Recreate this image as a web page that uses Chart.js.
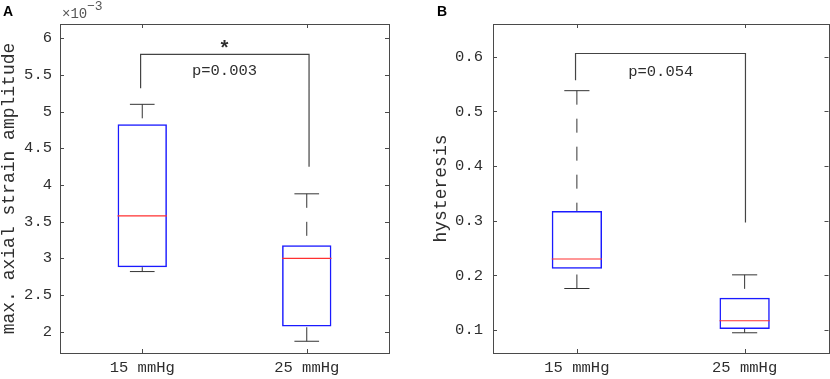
<!DOCTYPE html>
<html>
<head>
<meta charset="utf-8">
<script src="https://cdn.jsdelivr.net/npm/chart.js@4.4.1/dist/chart.umd.min.js"></script>
<style>
  body { margin: 0; background: #fff; }
  #wrapA { position: absolute; left: 0; top: 0; width: 415px; height: 379px; }
  #wrapB { position: absolute; left: 415px; top: 0; width: 415px; height: 379px; }
</style>
</head>
<body>
<div id="wrapA"><canvas id="chartA" width="415" height="379"></canvas></div>
<div id="wrapB"><canvas id="chartB" width="415" height="379"></canvas></div>
<script>
// categories on the x axis
const categories = ['15 mmHg', '25 mmHg'];

// panel A: max. axial strain amplitude (x10^-3)
const strainMin = [2.82, 1.87];
const strainQ1 = [2.88, 2.07];
const strainMedian = [3.58, 3.00];
const strainQ3 = [4.83, 3.18];
const strainMax = [5.10, 3.88];
const strainTicks = [2, 2.5, 3, 3.5, 4, 4.5, 5, 5.5, 6];
// significance bracket: left leg end, top, right leg end
const strainBracket = [5.32, 5.78, 4.25];

// panel B: hysteresis
const hystMin = [0.176, 0.095];
const hystQ1 = [0.212, 0.102];
const hystMedian = [0.230, 0.117];
const hystQ3 = [0.318, 0.159];
const hystMax = [0.538, 0.201];
const hystTicks = [0.1, 0.2, 0.3, 0.4, 0.5, 0.6];
const hystBracket = [0.557, 0.606, 0.297];

const monoFont = 'Liberation Mono, Courier New, monospace';
const axisColor = '#4a4a4a';
const textColor = '#2e2e2e';

// frame, inner tick marks and the free text of each panel
const framePlugin = {
  id: 'frame',
  afterDraw(chart) {
    const ctx = chart.ctx;
    const a = chart.chartArea;
    const xs = chart.scales.x;
    const ys = chart.scales.y;
    const tl = 4;
    ctx.save();
    ctx.strokeStyle = axisColor;
    ctx.lineWidth = 1;
    ctx.strokeRect(Math.round(a.left) + 0.5, Math.round(a.top) + 0.5,
      Math.round(a.right - a.left), Math.round(a.bottom - a.top));
    ctx.beginPath();
    ys.ticks.forEach(t => {
      const py = Math.round(ys.getPixelForValue(t.value)) + 0.5;
      ctx.moveTo(a.left, py); ctx.lineTo(a.left + tl, py);
      ctx.moveTo(a.right, py); ctx.lineTo(a.right - tl, py);
    });
    xs.ticks.forEach(t => {
      const px = Math.round(xs.getPixelForValue(t.value)) + 0.5;
      ctx.moveTo(px, a.bottom); ctx.lineTo(px, a.bottom - tl);
      ctx.moveTo(px, a.top); ctx.lineTo(px, a.top + tl);
    });
    ctx.stroke();

    const opts = chart.options.plugins.frame;
    ctx.fillStyle = textColor;
    ctx.textAlign = 'center';
    ctx.textBaseline = 'middle';
    (opts.notes || []).forEach(n => {
      ctx.font = (n.bold ? 'bold ' : '') + n.size + 'px ' + monoFont;
      ctx.fillText(n.text, xs.getPixelForValue(n.x), ys.getPixelForValue(n.y));
    });

    // panel letter
    ctx.fillStyle = '#000';
    ctx.textAlign = 'left';
    ctx.textBaseline = 'alphabetic';
    ctx.font = 'bold 14px Liberation Sans, Arial, sans-serif';
    ctx.fillText(opts.letter, opts.letterX, 16);

    if (opts.exponent) {
      ctx.fillStyle = '#555';
      ctx.font = '14px ' + monoFont;
      ctx.fillText('\u00d710', a.left + 2, 18);
      ctx.font = '13px ' + monoFont;
      ctx.fillText(opts.exponent, a.left + 27, 10);
    }
    ctx.restore();
  }
};

function boxDatasets(mins, q1s, meds, q3s, maxs, bracket, legX) {
  const boxW = 0.15;
  const capW = 0.075;
  const medians = [], whiskers = [], caps = [];
  categories.forEach((c, i) => {
    const x = i + 1;
    medians.push({x: x - boxW, y: meds[i]}, {x: x + boxW, y: meds[i]}, {x: x, y: null});
    whiskers.push({x: x, y: maxs[i]}, {x: x, y: q3s[i]}, {x: x, y: null});
    whiskers.push({x: x, y: mins[i]}, {x: x, y: q1s[i]}, {x: x, y: null});
    caps.push({x: x - capW, y: maxs[i]}, {x: x + capW, y: maxs[i]}, {x: x, y: null});
    caps.push({x: x - capW, y: mins[i]}, {x: x + capW, y: mins[i]}, {x: x, y: null});
  });
  const line = {type: 'line', showLine: true, pointRadius: 0, fill: false, tension: 0, spanGaps: false};
  return [
    Object.assign({}, line, {data: medians, borderColor: '#ff3030', borderWidth: 1.2, order: 0}),
    {
      type: 'bar',
      data: categories.map((c, i) => ({x: i + 1, y: [q1s[i], q3s[i]]})),
      backgroundColor: 'rgba(255,255,255,0)',
      borderColor: '#1a1aff',
      borderWidth: 1.5,
      borderSkipped: false,
      barPercentage: 0.3,
      categoryPercentage: 1,
      order: 3
    },
    Object.assign({}, line, {data: whiskers, borderColor: '#333', borderWidth: 1, borderDash: [14, 14], order: 2}),
    Object.assign({}, line, {data: caps, borderColor: '#333', borderWidth: 1, order: 2}),
    Object.assign({}, line, {
      data: [{x: legX[0], y: bracket[0]}, {x: legX[0], y: bracket[1]}, {x: legX[1], y: bracket[1]}, {x: legX[1], y: bracket[2]}],
      borderColor: '#444', borderWidth: 1.2, order: 1
    })
  ];
}

function makeChart(id, cfg) {
  return new Chart(document.getElementById(id), {
    type: 'bar',
    data: {datasets: cfg.datasets},
    options: {
      responsive: false,
      animation: false,
      layout: {padding: {top: 24, right: cfg.padRight, bottom: 0, left: 0}},
      plugins: {
        legend: {display: false},
        tooltip: {enabled: false},
        frame: cfg.frame
      },
      scales: {
        x: {
          type: 'linear',
          min: 0.5,
          max: 2.5,
          offset: false,
          grid: {display: false, drawTicks: false},
          border: {display: false},
          afterBuildTicks: s => { s.ticks = categories.map((c, i) => ({value: i + 1})); },
          afterFit: s => { s.height = 26; },
          ticks: {
            autoSkip: false,
            maxRotation: 0,
            padding: 6,
            color: textColor,
            font: {family: monoFont, size: 15.5},
            callback: v => categories[v - 1]
          }
        },
        y: {
          type: 'linear',
          min: cfg.yMin,
          max: cfg.yMax,
          grid: {display: false, drawTicks: false},
          border: {display: false},
          afterBuildTicks: s => { s.ticks = cfg.yTicks.map(v => ({value: v})); },
          afterFit: s => { s.width = cfg.yWidth; },
          ticks: {
            padding: cfg.yPad,
            color: textColor,
            font: {family: monoFont, size: 15.5},
            callback: v => String(v)
          },
          title: {
            display: true,
            text: cfg.yTitle,
            color: textColor,
            padding: {top: cfg.titlePad, bottom: 0},
            font: {family: monoFont, size: 18, lineHeight: 1}
          }
        }
      }
    },
    plugins: [framePlugin]
  });
}

makeChart('chartA', {
  datasets: boxDatasets(strainMin, strainQ1, strainMedian, strainQ3, strainMax, strainBracket, [0.99, 2.014]),
  yMin: 1.71, yMax: 6.195, yTicks: strainTicks,
  yWidth: 60, yPad: 8, padRight: 26, titlePad: 0,
  yTitle: 'max. axial strain amplitude',
  frame: {
    letter: 'A', letterX: 3, exponent: '\u22123',
    notes: [
      {text: '*', x: 1.5, y: 5.84, size: 20, bold: true},
      {text: 'p=0.003', x: 1.5, y: 5.55, size: 15.5}
    ]
  }
});

makeChart('chartB', {
  datasets: boxDatasets(hystMin, hystQ1, hystMedian, hystQ3, hystMax, hystBracket, [0.992, 2.005]),
  yMin: 0.058, yMax: 0.66, yTicks: hystTicks,
  yWidth: 78, yPad: 10, padRight: 1.5, titlePad: 17,
  yTitle: 'hysteresis',
  frame: {
    letter: 'B', letterX: 22,
    notes: [
      {text: 'p=0.054', x: 1.5, y: 0.573, size: 15.5}
    ]
  }
});
</script>
</body>
</html>
